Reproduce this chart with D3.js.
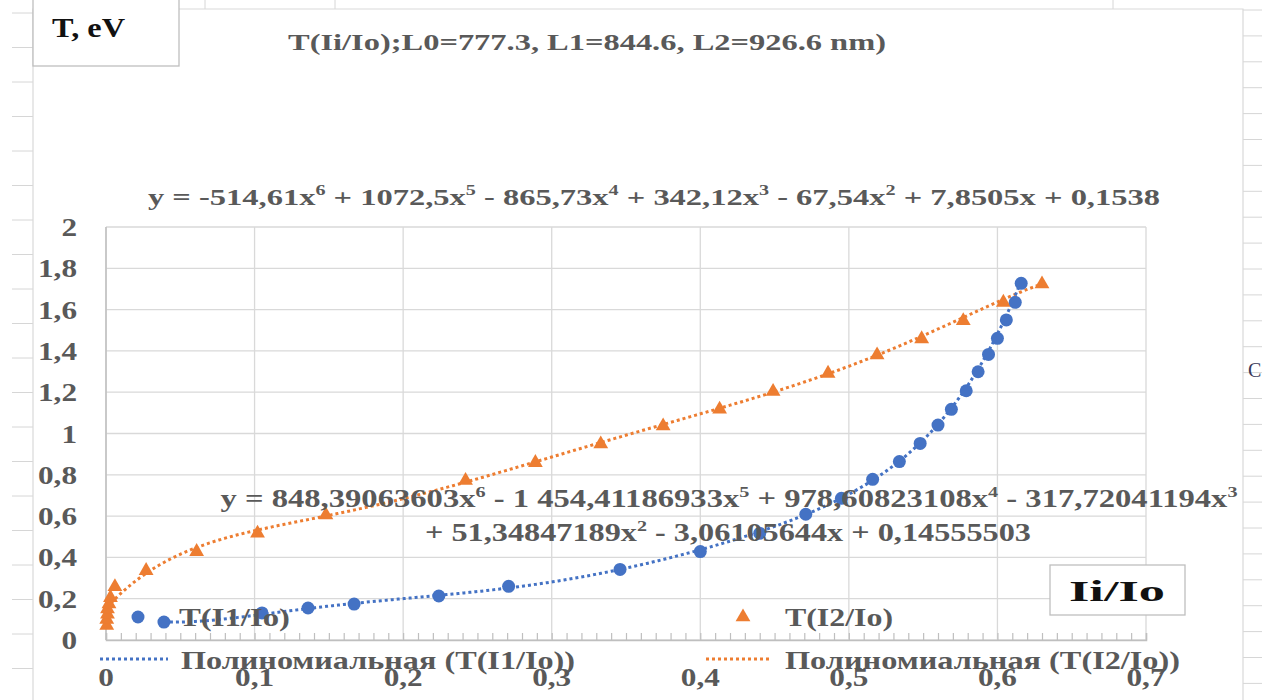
<!DOCTYPE html>
<html>
<head>
<meta charset="utf-8">
<script src="https://cdn.jsdelivr.net/npm/d3@7/dist/d3.min.js"></script>
<style>
  html, body { margin: 0; padding: 0; background: #fff; }
  svg { display: block; }
</style>
</head>
<body>
<svg id="chart" width="1262" height="700" font-family="'Liberation Serif', 'Times New Roman', Tinos, serif" font-weight="700"></svg>
<script>
// ---- data ----
const seriesNames = ["T(I1/Io)", "T(I2/Io)"];
const trendNames = ["Полиномиальная (T(I1/Io))", "Полиномиальная (T(I2/Io))"];

// T(I1/Io)
const i1X = [0.039, 0.105, 0.136, 0.167, 0.224, 0.271, 0.346, 0.400, 0.440, 0.471, 0.495, 0.516,
             0.534, 0.548, 0.560, 0.569, 0.579, 0.587, 0.594, 0.600, 0.606, 0.612, 0.616];
const i1Y = [0.087, 0.131, 0.155, 0.174, 0.213, 0.260, 0.342, 0.428, 0.517, 0.609, 0.686, 0.778,
             0.864, 0.952, 1.041, 1.117, 1.207, 1.299, 1.383, 1.461, 1.550, 1.635, 1.727];

// T(I2/Io)
const i2X = [0.0005, 0.0005, 0.001, 0.001, 0.002, 0.003, 0.006, 0.027, 0.061, 0.102, 0.148, 0.242,
             0.289, 0.333, 0.375, 0.413, 0.449, 0.486, 0.519, 0.549, 0.577, 0.604, 0.630];
const i2Y = [0.070, 0.100, 0.125, 0.150, 0.175, 0.205, 0.258, 0.336, 0.428, 0.517, 0.605, 0.772,
             0.859, 0.949, 1.036, 1.117, 1.203, 1.291, 1.380, 1.458, 1.546, 1.635, 1.724];

// 6th-order polynomial trendline coefficients, highest power first
const i1Coef = [848.39063603, -1454.41186933, 978.60823108, -317.72041194, 51.34847189, -3.06105644, 0.14555503];
const i2Coef = [-514.61, 1072.5, -865.73, 342.12, -67.54, 7.8505, 0.1538];

const xTicks = [0, 0.1, 0.2, 0.3, 0.4, 0.5, 0.6, 0.7];
const yTicks = [0, 0.2, 0.4, 0.6, 0.8, 1, 1.2, 1.4, 1.6, 1.8, 2];

const titleText = "T(Ii/Io);L0=777.3, L1=844.6, L2=926.6 nm)";
const yAxisTitle = "T, eV";
const xAxisTitle = "Ii/Io";

// ---- setup ----
const BLUE = "#4472C4", ORANGE = "#ED7D31", GREY_TEXT = "#595959";
const svg = d3.select("#chart");

// widen a text element horizontally by a factor (labels are set slightly wide)
function stretch(sel, k) {
  sel.each(function () {
    const w = this.getComputedTextLength();
    d3.select(this).attr("textLength", w * k).attr("lengthAdjust", "spacingAndGlyphs");
  });
}

// spreadsheet cells around the chart object
const sheet = svg.append("g").attr("stroke", "#d6d6d6").attr("stroke-width", 1);
d3.range(13, 700, 34.5).forEach(y => sheet.append("line").attr("x1", 12).attr("x2", 33).attr("y1", y).attr("y2", y));
d3.range(10, 700, 25.9).forEach(y => sheet.append("line").attr("x1", 1243).attr("x2", 1262).attr("y1", y).attr("y2", y));
[205, 335, 1113].forEach(x => sheet.append("line").attr("x1", x).attr("x2", x).attr("y1", 0).attr("y2", 9));
svg.append("text").attr("x", 1248).attr("y", 377).attr("font-size", 20).attr("font-weight", "normal")
   .attr("fill", "#3a3a5a").text("C");

// chart area
svg.append("path").attr("d", "M33,700 V9 H1243 V700").attr("fill", "#fff").attr("stroke", "#d9d9d9").attr("stroke-width", 1.2);

// plot scales
const x = d3.scaleLinear().domain([0, 0.7]).range([106, 1146]);
const y = d3.scaleLinear().domain([0, 2]).range([640, 227]);
const fmt = v => d3.format("~g")(v).replace(".", ",");

// gridlines
const grid = svg.append("g").attr("stroke", "#d9d9d9").attr("stroke-width", 1.3);
yTicks.forEach(t => grid.append("line").attr("x1", x(0)).attr("x2", x(0.7)).attr("y1", y(t)).attr("y2", y(t)));
xTicks.forEach(t => grid.append("line").attr("x1", x(t)).attr("x2", x(t)).attr("y1", y(0)).attr("y2", y(2)));

// x axis with inside minor ticks
const xAxis = d3.axisBottom(x).tickValues(d3.range(0, 0.7001, 0.01)).tickSize(-7).tickFormat("");
const xg = svg.append("g").attr("transform", `translate(0,${y(0)})`).call(xAxis);
xg.select(".domain").attr("stroke", "#bfbfbf").attr("stroke-width", 1.5);
xg.selectAll(".tick line").attr("stroke", "#bfbfbf").attr("stroke-width", 1.2);

// y axis line
svg.append("line").attr("x1", x(0)).attr("x2", x(0)).attr("y1", y(0)).attr("y2", y(2))
   .attr("stroke", "#bfbfbf").attr("stroke-width", 1.5);

// y tick labels
svg.append("g").selectAll("text").data(yTicks).join("text")
   .attr("x", 77).attr("y", d => y(d) + 9).attr("text-anchor", "end")
   .attr("font-size", 26).attr("fill", GREY_TEXT).text(fmt)
   .call(stretch, 1.2);

// trendlines
const poly = c => v => c.reduce((acc, k) => acc * v + k, 0);
function trend(coef, x0, x1, color) {
  const f = poly(coef);
  const pts = d3.range(0, 301).map(i => x0 + (x1 - x0) * i / 300);
  svg.append("path").datum(pts)
     .attr("d", d3.line().x(v => x(v)).y(v => y(f(v))))
     .attr("fill", "none").attr("stroke", color).attr("stroke-width", 3)
     .attr("stroke-dasharray", "3,3");
}
trend(i2Coef, d3.min(i2X), d3.max(i2X), ORANGE);
trend(i1Coef, d3.min(i1X), d3.max(i1X), BLUE);

// markers
const tri = d3.symbol().type(d3.symbolTriangle).size(95);
svg.append("g").selectAll("path").data(d3.range(i2X.length)).join("path")
   .attr("d", tri).attr("transform", i => `translate(${x(i2X[i])},${y(i2Y[i])})`)
   .attr("fill", ORANGE);
svg.append("g").selectAll("circle").data(d3.range(i1X.length)).join("circle")
   .attr("cx", i => x(i1X[i])).attr("cy", i => y(i1Y[i])).attr("r", 6.5)
   .attr("fill", BLUE);

// x tick labels
svg.append("g").selectAll("text").data(xTicks).join("text")
   .attr("x", d => x(d)).attr("y", 686).attr("text-anchor", "middle")
   .attr("font-size", 26).attr("fill", GREY_TEXT).text(fmt)
   .call(stretch, 1.2);

// equation labels
function coefText(c, group) {
  let s = Math.abs(c).toString().replace(".", ",");
  if (group) {
    const [ip, fp] = s.split(",");
    s = ip.replace(/\B(?=(\d{3})+(?!\d))/g, " ") + (fp ? "," + fp : "");
  }
  return s;
}
function equation(coef, group, from, to) {
  const parts = [];
  for (let i = from; i < to; i++) {
    const p = coef.length - 1 - i, c = coef[i];
    let lead;
    if (i === 0) lead = "y = " + (c < 0 ? "-" : "");
    else lead = (i === from ? "" : " ") + (c < 0 ? "- " : "+ ");
    parts.push({ t: lead + coefText(c, group) + (p > 0 ? "x" : ""), sup: p > 1 ? String(p) : null });
  }
  return parts;
}
function drawEq(parts, cx, cy, width, size) {
  const t = svg.append("text").attr("x", cx).attr("y", cy).attr("text-anchor", "middle")
     .attr("font-size", size).attr("fill", GREY_TEXT)
     .attr("textLength", width).attr("lengthAdjust", "spacingAndGlyphs");
  const rise = size * 0.42;
  let raised = false;
  parts.forEach(p => {
    const s = t.append("tspan").text(p.t);
    if (raised) { s.attr("dy", rise); raised = false; }
    if (p.sup) {
      t.append("tspan").attr("font-size", size * 0.62).attr("dy", -rise).text(p.sup);
      raised = true;
    }
  });
}
drawEq(equation(i2Coef, false, 0, 7), 654, 205, 1012, 24);
drawEq(equation(i1Coef, true, 0, 4), 729, 507, 1017, 25);
drawEq(equation(i1Coef, true, 4, 7), 728, 541, 606, 25);

// title
svg.append("text").attr("x", 587).attr("y", 50).attr("text-anchor", "middle")
   .attr("font-size", 24).attr("fill", GREY_TEXT)
   .attr("textLength", 598).attr("lengthAdjust", "spacingAndGlyphs").text(titleText);

// y axis title box
svg.append("rect").attr("x", 33).attr("y", -2).attr("width", 146).attr("height", 68)
   .attr("fill", "#fff").attr("stroke", "#bfbfbf").attr("stroke-width", 1.3);
svg.append("text").attr("x", 52).attr("y", 37).attr("font-size", 27).attr("fill", "#111")
   .attr("textLength", 73).attr("lengthAdjust", "spacingAndGlyphs").text(yAxisTitle);

// x axis title box
svg.append("rect").attr("x", 1050).attr("y", 565).attr("width", 135).attr("height", 50)
   .attr("fill", "#fff").attr("stroke", "#bfbfbf").attr("stroke-width", 1.3);
svg.append("text").attr("x", 1117).attr("y", 601).attr("text-anchor", "middle")
   .attr("font-size", 29).attr("fill", "#111")
   .attr("textLength", 96).attr("lengthAdjust", "spacingAndGlyphs").text(xAxisTitle);

// legend
const lg = svg.append("g");
lg.append("circle").attr("cx", 138).attr("cy", 617).attr("r", 6.5).attr("fill", BLUE);
lg.append("text").attr("x", 179).attr("y", 626).attr("font-size", 26).attr("fill", GREY_TEXT)
  .attr("textLength", 111).attr("lengthAdjust", "spacingAndGlyphs").text(seriesNames[0]);
lg.append("path").attr("d", tri).attr("transform", "translate(743,617)").attr("fill", ORANGE);
lg.append("text").attr("x", 785).attr("y", 626).attr("font-size", 26).attr("fill", GREY_TEXT)
  .attr("textLength", 108).attr("lengthAdjust", "spacingAndGlyphs").text(seriesNames[1]);
lg.append("line").attr("x1", 100).attr("x2", 168).attr("y1", 659).attr("y2", 659)
  .attr("stroke", BLUE).attr("stroke-width", 3).attr("stroke-dasharray", "3,3");
lg.append("text").attr("x", 181).attr("y", 669).attr("font-size", 26).attr("fill", GREY_TEXT)
  .attr("textLength", 394).attr("lengthAdjust", "spacingAndGlyphs").text(trendNames[0]);
lg.append("line").attr("x1", 706).attr("x2", 772).attr("y1", 659).attr("y2", 659)
  .attr("stroke", ORANGE).attr("stroke-width", 3).attr("stroke-dasharray", "3,3");
lg.append("text").attr("x", 785).attr("y", 669).attr("font-size", 26).attr("fill", GREY_TEXT)
  .attr("textLength", 395).attr("lengthAdjust", "spacingAndGlyphs").text(trendNames[1]);
</script>
</body>
</html>
